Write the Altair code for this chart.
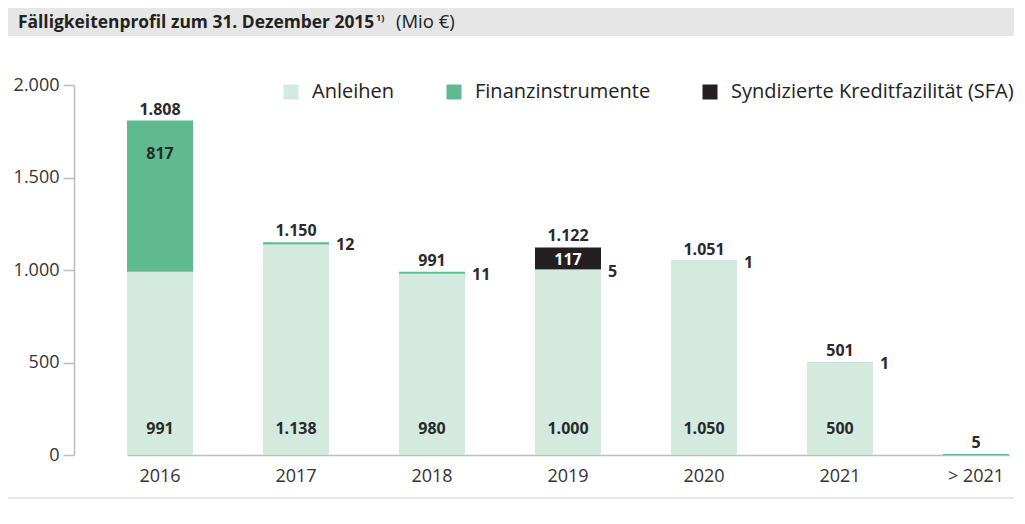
import altair as alt
import pandas as pd

categories = ["2016", "2017", "2018", "2019", "2020", "2021", "> 2021"]
anleihen = [991, 1138, 980, 1000, 1050, 500, 0]
finanz = [817, 12, 11, 5, 1, 1, 5]
sfa = [0, 0, 0, 117, 0, 0, 0]
totals = [1808, 1150, 991, 1122, 1051, 501, 5]
series = ["Anleihen", "Finanzinstrumente", "Syndizierte Kreditfazilität (SFA)"]
colors = ["#d5eadf", "#5fbb8f", "#231f20"]
y_ticks = [0, 500, 1000, 1500, 2000]

FONT = "Open Sans"
TXT = "#2a2a2a"
GRAY = "#bdbdbd"


def de(v):
    return f"{v:,}".replace(",", ".")


rows = []
for i, c in enumerate(categories):
    for k, (s, vals) in enumerate(zip(series, [anleihen, finanz, sfa])):
        rows.append(dict(cat=c, series=s, value=vals[i], order=k))
bars_df = pd.DataFrame(rows)

total_df = pd.DataFrame({"cat": categories, "y": totals, "label": [de(v) for v in totals]})
anl_df = pd.DataFrame([dict(cat=c, y=0, label=de(a)) for c, a in zip(categories, anleihen) if a > 0])
side_df = pd.DataFrame([dict(cat=c, y=a + f / 2, label=de(f))
                        for c, a, f in zip(categories, anleihen, finanz) if a > 0 and 0 < f < 100])
fin_in_df = pd.DataFrame([dict(cat=c, y=a + f, label=de(f))
                          for c, a, f in zip(categories, anleihen, finanz) if f >= 100])
sfa_df = pd.DataFrame([dict(cat=c, y=a + f + s / 2, label=de(s))
                       for c, a, f, s in zip(categories, anleihen, finanz, sfa) if s > 0])

xenc = alt.X("cat:N", sort=categories,
             scale=alt.Scale(range=[53, 935], paddingInner=0.5147, paddingOuter=0),
             axis=alt.Axis(title=None, labelAngle=0, ticks=False, labelPadding=12,
                           labelFontSize=18, labelColor="#333", labelFont=FONT,
                           domainColor=GRAY, domainWidth=1.5))
yscale = alt.Scale(domain=[0, 2000])

bars = alt.Chart(bars_df).mark_bar().encode(
    x=xenc,
    y=alt.Y("value:Q", stack="zero", scale=yscale,
            axis=alt.Axis(title=None, values=y_ticks, grid=False, tickSize=11, tickColor=GRAY,
                          tickWidth=1.5, domainColor=GRAY, domainWidth=1.5, labelPadding=4,
                          labelFontSize=18, labelColor="#333", labelFont=FONT, minExtent=66,
                          labelExpr="replace(format(datum.value, ','), ',', '.')")),
    color=alt.Color("series:N", scale=alt.Scale(domain=series, range=colors),
                    legend=alt.Legend(title=None, orient="none", legendX=207, legendY=74,
                                      direction="horizontal", symbolType="square", symbolSize=225,
                                      symbolStrokeWidth=0, labelFontSize=20, labelFont=FONT,
                                      labelColor="#222", labelOffset=11, columnPadding=49,
                                      labelLimit=400)),
    order=alt.Order("order:Q"),
)


def text_layer(df, color=TXT, **kw):
    return alt.Chart(df).mark_text(font=FONT, fontSize=16, fontWeight="bold", color=color, **kw).encode(
        x=alt.X("cat:N", sort=categories), y=alt.Y("y:Q", scale=yscale), text="label:N")


t_total = text_layer(total_df, baseline="alphabetic", dy=-6)
t_anl = text_layer(anl_df, baseline="alphabetic", dy=-21)
t_side = text_layer(side_df, baseline="middle", align="left", dx=40, dy=2)
t_fin = text_layer(fin_in_df, baseline="alphabetic", dy=38)
t_sfa = text_layer(sfa_df, color="white", baseline="middle", dy=2)

hdf = pd.DataFrame({"a": [0]})
footer = alt.Chart(hdf).mark_rect(color="#e6e6e6").encode(
    x=alt.value(-66), x2=alt.value(940), y=alt.value(412), y2=alt.value(414))

main = alt.layer(bars, t_total, t_anl, t_side, t_fin, t_sfa, footer).properties(width=940, height=370)

h_bg = alt.Chart(hdf).mark_rect(color="#e6e6e6").encode(
    x=alt.value(-66), x2=alt.value(940), y=alt.value(0), y2=alt.value(28))
h_bold = alt.Chart(hdf).mark_text(text="Fälligkeitenprofil zum 31. Dezember 2015", font=FONT, fontSize=17.4,
                                  fontWeight="bold", color="#222", align="left", baseline="alphabetic").encode(
    x=alt.value(-56), y=alt.value(20))
h_sup = alt.Chart(hdf).mark_text(text="1)", font=FONT, fontSize=9, fontWeight="bold", color="#222",
                                 align="left", baseline="alphabetic").encode(x=alt.value(302), y=alt.value(13))
h_reg = alt.Chart(hdf).mark_text(text="(Mio €)", font=FONT, fontSize=18.5, color="#222",
                                 align="left", baseline="alphabetic").encode(x=alt.value(322), y=alt.value(20))
header = alt.layer(h_bg, h_bold, h_sup, h_reg).properties(width=940, height=28)

chart = alt.vconcat(header, main, spacing=40).properties(padding=0).configure_view(stroke=None)

chart.save("out.html", embed_options={"renderer": "svg", "actions": False})
